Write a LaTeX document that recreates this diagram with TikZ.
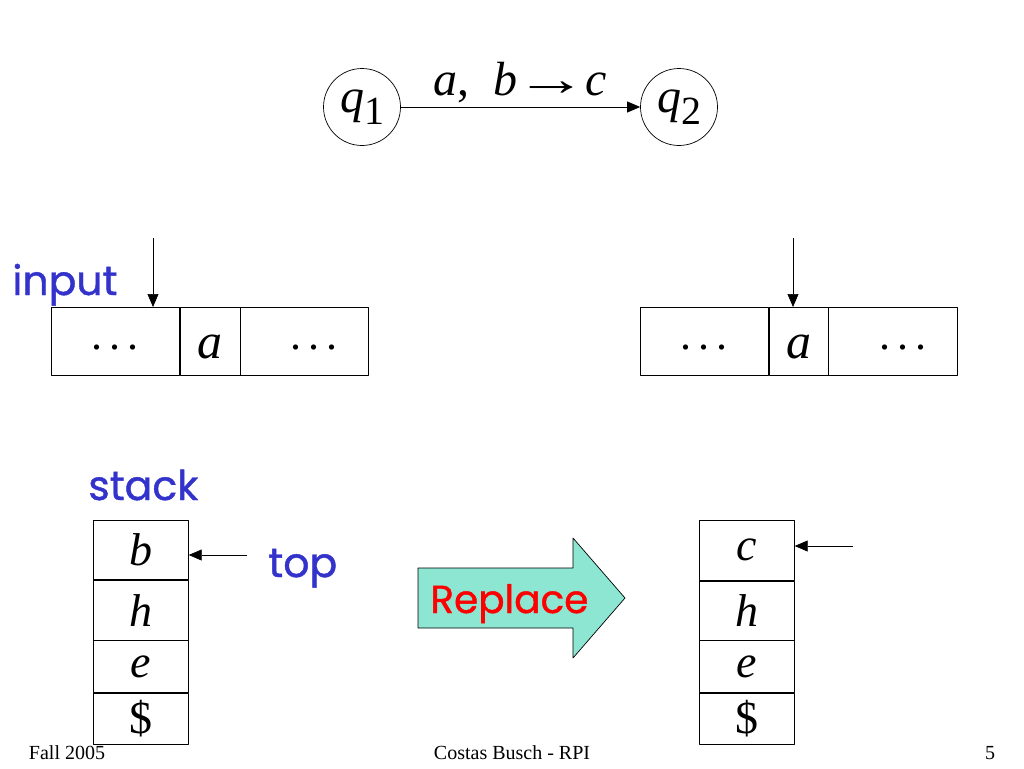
\documentclass[tikz,border=0pt]{standalone}
\usepackage{fontspec}
\setmainfont{Liberation Serif}
\newfontfamily\comicfont[FakeBold=1]{Poppins}
\usetikzlibrary{positioning,arrows.meta}
\definecolor{slideblue}{RGB}{51,51,204}
\definecolor{replacefill}{RGB}{140,230,210}
\newcommand{\tdots}{\fontsize{44}{48}\selectfont\raisebox{9pt}{.\hspace{7pt}.\hspace{7pt}.}}
\newcommand{\qstate}[1]{\textit{q}\raisebox{-.25em}{\fontsize{40}{40}\selectfont #1}}
\begin{document}
\begin{tikzpicture}[x=1pt, y=-1pt, line width=.7pt, line join=round, >={Triangle[length=13pt,width=11pt]},
	big/.style={font=\fontsize{46}{50}\selectfont},
	state/.style={draw, circle, minimum size=77pt, inner sep=0pt, font=\fontsize{48}{50}\selectfont},
	cell/.style={draw, minimum height=68pt, inner sep=0pt, text height=34pt, text depth=0pt, font=\fontsize{50}{54}\selectfont},
	slot/.style={draw, minimum width=95pt, inner sep=0pt, big},
	bluetext/.style={text=slideblue, font=\comicfont\fontsize{41}{44}\selectfont, inner sep=0pt, anchor=base west},
	footer/.style={font=\fontsize{20}{22}\selectfont, inner sep=0pt, anchor=base}]
	\useasboundingbox (0,0) rectangle (1024,768);
	% transition
	\node[state] (q1) at (362,107) {\qstate{1}};
	\node[state] (q2) at (679,107) {\qstate{2}};
	\draw[->] (q1) -- (q2) node[midway, above=0pt, font=\fontsize{48}{50}\selectfont] (lab) {\textit{a},\ \ \textit{b}\hspace{-2pt}\scalebox{1.5}[1]{→}\hspace{-2pt}\textit{c}};
	% input tapes
	\node[cell, minimum width=128pt, anchor=north west] (la) at (51,307) {\tdots\hspace{16pt}};
	\node[cell, minimum width=60pt, right=0pt of la] (lb) {\textit{a}};
	\node[cell, minimum width=128pt, right=0pt of lb] (lc) {\hspace{18pt}\tdots};
	\node[cell, minimum width=128pt, anchor=north west] (ra) at (640,307) {\tdots\hspace{14pt}};
	\node[cell, minimum width=59pt, right=0pt of ra] (rb) {\textit{a}};
	\node[cell, minimum width=129pt, right=0pt of rb] (rc) {\hspace{20pt}\tdots};
	\node[bluetext] (input) at (12,295) {input};
	\coordinate (lhead) at (153,238);
	\coordinate (rhead) at (793,238);
	\draw[->] (lhead) -- (lhead |- la.north);
	\draw[->] (rhead) -- (rhead |- rb.north);
	% stacks
	\node[slot, minimum height=59pt, anchor=north west] (l1) at (93,520) {\textit{b}};
	\node[slot, minimum height=60pt, below=0pt of l1] (l2) {\textit{h}};
	\node[slot, minimum height=52pt, below=0pt of l2] (l3) {\textit{e}};
	\node[slot, minimum height=51pt, below=0pt of l3] (l4) {\$};
	\node[slot, minimum height=60pt, anchor=north west] (r1) at (699,520) {\textit{c}};
	\node[slot, minimum height=59pt, below=0pt of r1] (r2) {\textit{h}};
	\node[slot, minimum height=52pt, below=0pt of r2] (r3) {\textit{e}};
	\node[slot, minimum height=51pt, below=0pt of r3] (r4) {\$};
	\node[bluetext] (stack) at (88,500) {stack};
	\node[bluetext] (top) at (268,577) {top};
	\coordinate (ltop) at (247,555);
	\coordinate (rtop) at (853,546);
	\draw[->] (ltop) -- (ltop -| l1.east);
	\draw[->] (rtop) -- (rtop -| r1.east);
	% replace arrow
	\draw[fill=replacefill] (418,568) -- (573,568) -- (573,538) -- (625,598) -- (573,658) -- (573,628) -- (418,628) -- cycle;
	\node[bluetext, text=red, font=\comicfont\fontsize{39}{42}\selectfont] (replace) at (430,613) {Replace};
	% footer
	\node[footer] (fall) at (67,759) {Fall 2005};
	\node[footer] (author) at (512,759) {Costas Busch - RPI};
	\node[footer] (page) at (990,759) {5};
\end{tikzpicture}
\end{document}
